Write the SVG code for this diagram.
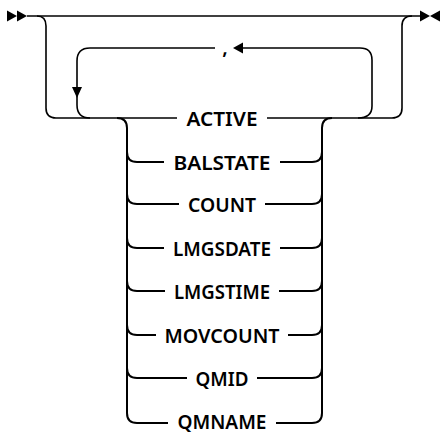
<svg xmlns="http://www.w3.org/2000/svg" width="441" height="434" viewBox="0 0 441 434">
<style>
.l{fill:none;stroke:#000;stroke-width:1.6}
.r{fill:none;stroke:#000;stroke-width:2}
.a{fill:#000}
.t{font-family:"Noto Sans","Liberation Sans",sans-serif;font-size:20px;font-weight:600;fill:#000;text-anchor:middle;dominant-baseline:central}
</style>
<rect width="441" height="434" fill="#fff"/>
<g id="connectors">
<path class="l" d="M27 16H420"/>
<path class="l" d="M37 16Q46 16 46 26V108Q46 118 56 118H177"/>
<path class="l" d="M267 118H392Q402 118 402 108V26Q402 16 412 16"/>
<path class="l" d="M90 118Q77 118 77 105V61Q77 48 90 48H215"/>
<path class="l" d="M243 48H360Q372 48 372 60V106Q372 118 358 118"/>
<path class="r" d="M117 118Q127 118 127 128V413Q127 423 137 423"/>
<path class="r" d="M312 423Q322 423 322 413V128Q322 118 332 118"/>
<polygon class="a" points="7,10.5 17,16 7,21.5"/>
<polygon class="a" points="17,10.5 27,16 17,21.5"/>
<polygon class="a" points="420,10.5 430,16 420,21.5"/>
<polygon class="a" points="440,10.5 430,16 440,21.5"/>
<polygon class="a" points="72,87 82,87 77,98"/>
<polygon class="a" points="243,42.5 233,48 243,53.5"/>
</g>
<g id="comma"><text class="t" x="225" y="46">,</text></g>
<g id="active"><text class="t" x="222" y="118" textLength="71" lengthAdjust="spacingAndGlyphs">ACTIVE</text></g>
<g id="balstate"><path class="r" d="M127 152Q127 162 137 162H164M280 162H312Q322 162 322 152"/><text class="t" x="222" y="162" textLength="97" lengthAdjust="spacingAndGlyphs">BALSTATE</text></g>
<g id="count"><path class="r" d="M127 194Q127 204 137 204H179M265 204H312Q322 204 322 194"/><text class="t" x="222" y="204" textLength="68" lengthAdjust="spacingAndGlyphs">COUNT</text></g>
<g id="lmgsdate"><path class="r" d="M127 238Q127 248 137 248H164M280 248H312Q322 248 322 238"/><text class="t" x="222" y="248" textLength="98" lengthAdjust="spacingAndGlyphs">LMGSDATE</text></g>
<g id="lmgstime"><path class="r" d="M127 281Q127 291 137 291H165M279 291H312Q322 291 322 281"/><text class="t" x="222" y="291" textLength="96" lengthAdjust="spacingAndGlyphs">LMGSTIME</text></g>
<g id="movcount"><path class="r" d="M127 325Q127 335 137 335H156M288 335H312Q322 335 322 325"/><text class="t" x="222" y="335" textLength="115" lengthAdjust="spacingAndGlyphs">MOVCOUNT</text></g>
<g id="qmid"><path class="r" d="M127 368Q127 378 137 378H187M257 378H312Q322 378 322 368"/><text class="t" x="222" y="378" textLength="53" lengthAdjust="spacingAndGlyphs">QMID</text></g>
<g id="qmname"><path class="r" d="M137 423H168M276 423H312"/><text class="t" x="222" y="421" textLength="89" lengthAdjust="spacingAndGlyphs">QMNAME</text></g>
</svg>
